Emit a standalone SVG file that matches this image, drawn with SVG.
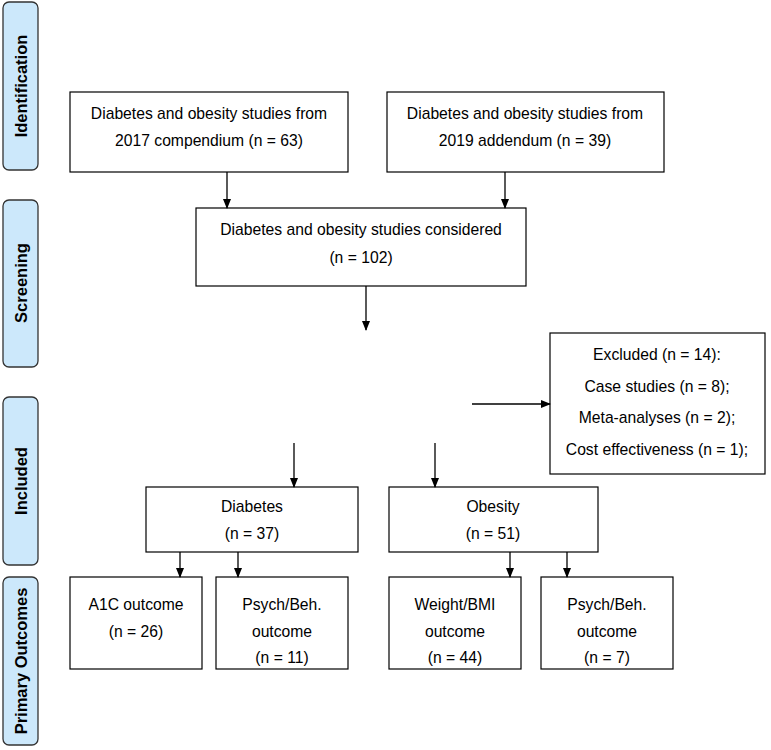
<svg xmlns="http://www.w3.org/2000/svg" width="771" height="750" viewBox="0 0 771 750">
<style>
.bar{fill:#cce8fb;stroke:#333;stroke-width:1.3}
.bt{font-family:"Liberation Sans",Arial,sans-serif;font-weight:bold;font-size:16.5px;fill:#000;text-anchor:middle}
.box{fill:#fff;stroke:#000;stroke-width:1.2}
.t{font-family:"Liberation Sans",Arial,sans-serif;font-size:15.7px;fill:#000;text-anchor:middle}
.c{stroke:#000;stroke-width:1.3;fill:none;marker-end:url(#a)}
</style>
<defs><marker id="a" markerWidth="10" markerHeight="8" refX="9" refY="4" orient="auto" markerUnits="userSpaceOnUse"><path d="M0,0L10,4L0,8Z" fill="#000"/></marker></defs>
<rect width="771" height="750" fill="#fff"/>
<g id="stage-identification"><rect class="bar" x="3" y="2" width="35" height="168" rx="6"/><text class="bt" transform="translate(27,86) rotate(-90)">Identification</text></g>
<g id="stage-screening"><rect class="bar" x="3" y="200" width="35" height="167" rx="6"/><text class="bt" transform="translate(27,283) rotate(-90)">Screening</text></g>
<g id="stage-included"><rect class="bar" x="3" y="397" width="35" height="168" rx="6"/><text class="bt" transform="translate(27,481) rotate(-90)">Included</text></g>
<g id="stage-primary"><rect class="bar" x="3" y="577" width="35" height="168" rx="6"/><text class="bt" transform="translate(27,661) rotate(-90)">Primary Outcomes</text></g>
<g id="n2017"><rect class="box" x="70" y="92" width="278" height="80"/><text class="t" x="209" y="119">Diabetes and obesity studies from</text><text class="t" x="209" y="146">2017 compendium (n = 63)</text></g>
<g id="n2019"><rect class="box" x="387" y="92" width="277" height="80"/><text class="t" x="525" y="119">Diabetes and obesity studies from</text><text class="t" x="525" y="146">2019 addendum (n = 39)</text></g>
<g id="considered"><rect class="box" x="196" y="208" width="330" height="78"/><text class="t" x="361" y="235">Diabetes and obesity studies considered</text><text class="t" x="361" y="263">(n = 102)</text></g>
<g id="excluded"><rect class="box" x="550" y="333" width="215" height="141"/><text class="t" x="657" y="360">Excluded (n = 14):</text><text class="t" x="657" y="392">Case studies (n = 8);</text><text class="t" x="657" y="423">Meta-analyses (n = 2);</text><text class="t" x="657" y="455">Cost effectiveness (n = 1);</text></g>
<g id="diabetes"><rect class="box" x="146" y="487" width="212" height="65"/><text class="t" x="252" y="512">Diabetes</text><text class="t" x="252" y="539">(n = 37)</text></g>
<g id="obesity"><rect class="box" x="389" y="487" width="209" height="65"/><text class="t" x="493" y="512">Obesity</text><text class="t" x="493" y="539">(n = 51)</text></g>
<g id="a1c"><rect class="box" x="70" y="577" width="132" height="92"/><text class="t" x="136" y="610">A1C outcome</text><text class="t" x="136" y="637">(n = 26)</text></g>
<g id="psych1"><rect class="box" x="216" y="577" width="132" height="92"/><text class="t" x="282" y="610">Psych/Beh.</text><text class="t" x="282" y="637">outcome</text><text class="t" x="282" y="663">(n = 11)</text></g>
<g id="weight"><rect class="box" x="389" y="577" width="132" height="92"/><text class="t" x="455" y="610">Weight/BMI</text><text class="t" x="455" y="637">outcome</text><text class="t" x="455" y="663">(n = 44)</text></g>
<g id="psych2"><rect class="box" x="541" y="577" width="132" height="92"/><text class="t" x="607" y="610">Psych/Beh.</text><text class="t" x="607" y="637">outcome</text><text class="t" x="607" y="663">(n = 7)</text></g>
<g id="connectors">
<path class="c" d="M227,172V208"/>
<path class="c" d="M505,172V208"/>
<path class="c" d="M366,286V330"/>
<path class="c" d="M472,404H550"/>
<path class="c" d="M294,443V487"/>
<path class="c" d="M435,443V487"/>
<path class="c" d="M180,552V577"/>
<path class="c" d="M238,552V577"/>
<path class="c" d="M510,552V577"/>
<path class="c" d="M567,552V577"/>
</g>
</svg>
